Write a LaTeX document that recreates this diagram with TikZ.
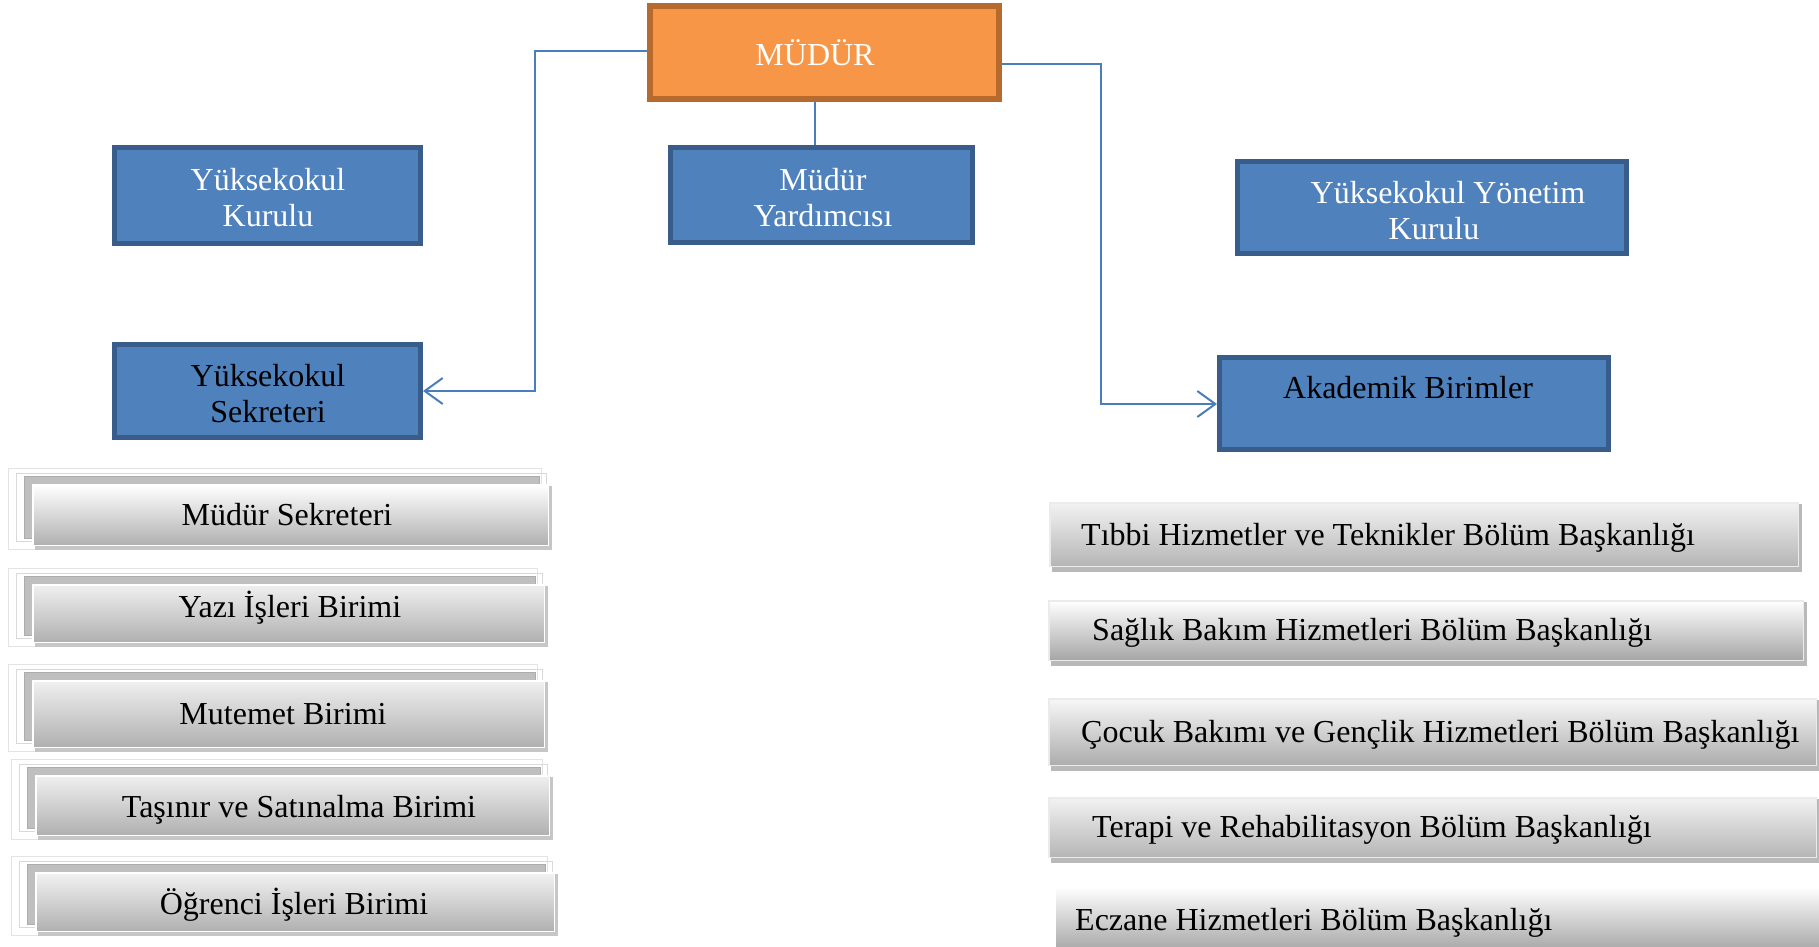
\documentclass[tikz,border=0pt]{standalone}
\usepackage{fontspec}
\setmainfont{Liberation Serif}
\usetikzlibrary{arrows.meta,backgrounds}
\definecolor{bfill}{HTML}{4F81BD}
\definecolor{bline}{HTML}{385D8A}
\definecolor{ofill}{HTML}{F79646}
\definecolor{oline}{HTML}{B66A2E}
\definecolor{connc}{HTML}{4A7EBB}
\begin{document}
\begin{tikzpicture}[x=1pt,y=-1pt,
  bluebox/.style={draw=bline, fill=bfill, line width=5pt, inner sep=0pt},
  orgbox/.style={draw=oline, fill=ofill, line width=6pt, inner sep=0pt},
  lbl/.style={font=\fontsize{32}{36}\selectfont, align=center, inner sep=0pt},
  wlbl/.style={lbl, text=white},
  connline/.style={draw=connc, line width=2pt},
  barb/.style={-{Straight Barb[length=18pt,width=26pt,line width=2pt]}},
  lfront/.style={draw=white, line width=1.5pt, inner sep=0pt, top color=#1, bottom color=gray!62},
  rfront/.style={draw=white!92!black, line width=1.5pt, inner sep=0pt, top color=#1, bottom color=gray!58},
]
\clip (0,0) rectangle (1819,946);

% top blue/orange boxes
\node[orgbox, minimum width=349pt, minimum height=93pt] (mudur) at (824.5,52.5) {};
\node[wlbl, anchor=base] (mudurt) at (815,65) {MÜDÜR};
\node[bluebox, minimum width=302pt, minimum height=95pt] (yard) at (821.5,195) {};
\node[wlbl] (yardt) at (823,198) {Müdür\\Yardımcısı};
\node[bluebox, minimum width=306pt, minimum height=96pt] (kurul) at (267.5,195.5) {};
\node[wlbl] (kurult) at (268,198) {Yüksekokul\\Kurulu};
\node[bluebox, minimum width=389pt, minimum height=92pt] (yonetim) at (1432,207.5) {};
\node[wlbl] (yonetimt) at (1434,211) {\hspace{28pt}Yüksekokul Yönetim\\Kurulu};
\node[bluebox, minimum width=306pt, minimum height=93pt] (sekreter) at (267.5,391) {};
\node[lbl] (sekretert) at (268,394) {Yüksekokul\\Sekreteri};
\node[bluebox, minimum width=389pt, minimum height=92pt] (akademik) at (1414,403.5) {};
\node[lbl, anchor=base] (akademikt) at (1408,398) {Akademik Birimler};

% connectors
\draw[connline] (mudur.south -| mudurt.south) -- (yard.north -| mudurt.south);
\coordinate (lc1) at (535,51);
\coordinate (rc1) at (1101,64);
\draw[connline, barb] (mudur.west |- lc1) -- (lc1) |- (sekreter.east);
\draw[connline, barb] (mudur.east |- rc1) -- (rc1) |- (akademik.west |- 0,404);

% left gray boxes
\node[lfront=white, minimum width=515.5pt, minimum height=60.5pt] (lb1) at (290.5,515) {};
\node[lfront=gray!12, minimum width=511.5pt, minimum height=57.5pt] (lb2) at (288.5,613.5) {};
\node[lfront=gray!12, minimum width=511.5pt, minimum height=66.5pt] (lb3) at (288.5,714) {};
\node[lfront=gray!12, minimum width=513.5pt, minimum height=59.5pt] (lb4) at (292.5,805.5) {};
\node[lfront=gray!10, minimum width=518.5pt, minimum height=58.5pt] (lb5) at (295,902) {};

\node[lbl, anchor=base] (lt1) at (287,525) {Müdür Sekreteri};
\node[lbl, anchor=base] (lt2) at (290,617) {Yazı İşleri Birimi};
\node[lbl, anchor=base] (lt3) at (283,724) {Mutemet Birimi};
\node[lbl, anchor=base] (lt4) at (299,817) {Taşınır ve Satınalma Birimi};
\node[lbl, anchor=base] (lt5) at (294,914) {Öğrenci İşleri Birimi};

% right gray boxes
\node[rfront=gray!10, minimum width=748.5pt, minimum height=63.5pt] (rb1) at (1424,534.5) {};
\node[rfront=white, bottom color=gray!70, minimum width=754.5pt, minimum height=59.5pt] (rb2) at (1426,630.5) {};
\node[rfront=gray!6, bottom color=gray!65, minimum width=767.5pt, minimum height=66.5pt] (rb3) at (1432.5,732) {};
\node[rfront=gray!10, minimum width=767.5pt, minimum height=59.5pt] (rb4) at (1432.5,827.5) {};
\node[draw=none, inner sep=0pt, top color=white, bottom color=gray!80, minimum width=774pt, minimum height=73pt] (rb5) at (1443,923.5) {};

\node[lbl, anchor=base west] (rt1) at (1081,545) {Tıbbi Hizmetler ve Teknikler Bölüm Başkanlığı};
\node[lbl, anchor=base west] (rt2) at (1092,640) {Sağlık Bakım Hizmetleri Bölüm Başkanlığı};
\node[lbl, anchor=base west] (rt3) at (1081,742) {Çocuk Bakımı ve Gençlik Hizmetleri Bölüm Başkanlığı};
\node[lbl, anchor=base west] (rt4) at (1092,837) {Terapi ve Rehabilitasyon Bölüm Başkanlığı};
\node[lbl, anchor=base west] (rt5) at (1075,930) {Eczane Hizmetleri Bölüm Başkanlığı};

\begin{scope}[on background layer]
  \fill[white] (0,0) rectangle (1819,946);
  \foreach \n in {lb1,lb2,lb3,lb4,lb5}{
    \draw[gray!22, line width=1pt] ([shift={(-24,-16)}]\n.north west) rectangle ([shift={(-8,3)}]\n.south east);
    \draw[gray!30, line width=1pt] ([shift={(-16,-11)}]\n.north west) rectangle ([shift={(-3,-5)}]\n.south east);
    \fill[gray!50, draw=gray!65, line width=1pt] ([shift={(-8,-8)}]\n.north west) rectangle ([shift={(-10,-8)}]\n.south east);
    \fill[gray!45] ([shift={(3,2)}]\n.north west) rectangle ([shift={(3,4)}]\n.south east);
  }
  \foreach \n in {rb1,rb2,rb3,rb4}{
    \fill[gray!55] ([shift={(3,2)}]\n.north west) rectangle ([shift={(3,5)}]\n.south east);
  }
\end{scope}
\end{tikzpicture}
\end{document}
